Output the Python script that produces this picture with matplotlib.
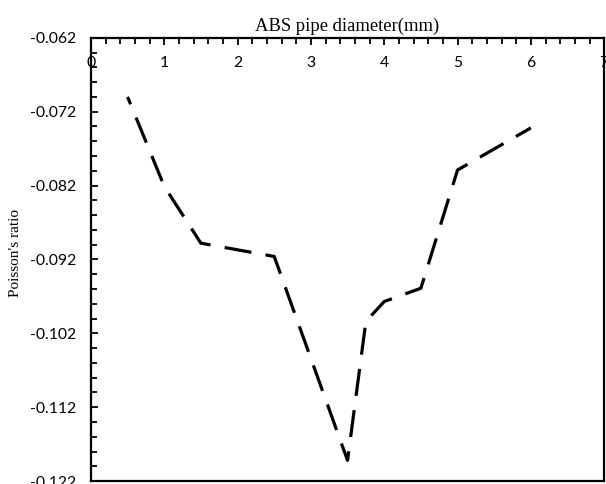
import numpy as np
import matplotlib
matplotlib.use('Agg')
import matplotlib.pyplot as plt
from matplotlib.ticker import MultipleLocator, FixedLocator, FormatStrFormatter

# ABS pipe diameter (mm) vs Poisson's ratio
diameter = [0.5, 1.0, 1.5, 2.5, 3.5, 3.75, 4.0, 4.5, 5.0, 6.0]
poisson = [-0.0700, -0.0821, -0.0898, -0.0916, -0.1192, -0.1004, -0.0977, -0.0959, -0.0799, -0.0742]
yticks = [-0.122, -0.112, -0.102, -0.092, -0.082, -0.072, -0.062]

fig = plt.figure(figsize=(6.06, 4.84), dpi=100)
ax = fig.add_axes([0.150, 0.006, 0.847, 0.916])

ax.plot(diameter, poisson, color='black', lw=2.3, linestyle=(6, (8.5, 4.5)),
        solid_capstyle='butt', dash_capstyle='butt')

ax.set_xlim(0, 7)
ax.set_ylim(-0.122, -0.062)
ax.xaxis.tick_top()
ax.xaxis.set_label_position('top')
ax.xaxis.set_major_locator(MultipleLocator(1))
ax.xaxis.set_minor_locator(MultipleLocator(0.2))
ax.yaxis.set_major_locator(FixedLocator(yticks))
ax.yaxis.set_minor_locator(FixedLocator(np.linspace(yticks[0], yticks[-1], 31)))
ax.yaxis.set_major_formatter(FormatStrFormatter('%.3f'))

for s in ax.spines.values():
    s.set_linewidth(1.6)

ax.tick_params(axis='x', which='both', direction='in', width=1.3, pad=-23,
               labelsize=11.3, labelfontfamily='Lato')
ax.tick_params(axis='x', which='major', length=5)
ax.tick_params(axis='x', which='minor', length=4)
ax.tick_params(axis='y', which='both', direction='in', width=1.3, pad=10.5,
               labelsize=11.3, labelfontfamily='Lato')
ax.tick_params(axis='y', which='major', length=5)
ax.tick_params(axis='y', which='minor', length=4)

ax.set_xlabel('ABS pipe diameter(mm)', family='Liberation Serif', fontsize=13.4, labelpad=5)
ax.set_ylabel("Poisson's ratio", family='Liberation Serif', fontsize=11)
ax.yaxis.set_label_coords(-0.134, 0.515)

fig.savefig('out.png', dpi=100)
